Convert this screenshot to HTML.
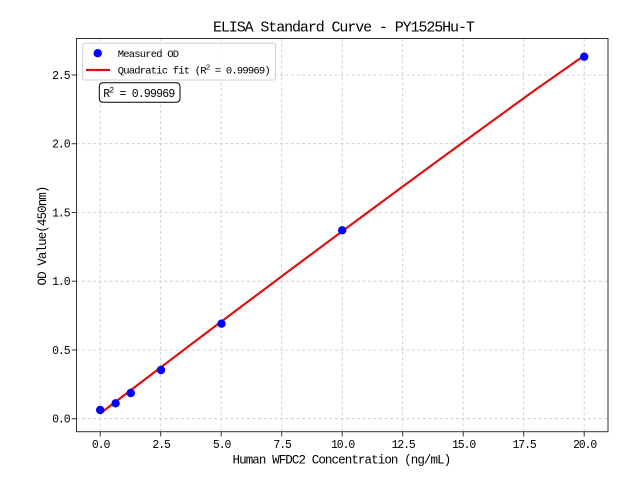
<!DOCTYPE html>
<html><head><meta charset="utf-8"><style>
html,body{margin:0;padding:0;background:#fff;}
svg{display:block;}
text{font-family:"Liberation Mono","Noto Sans CJK SC",monospace;fill:#000;}
</style></head><body>
<svg width="640" height="480" viewBox="0 0 640 480" xmlns="http://www.w3.org/2000/svg">
<rect width="640" height="480" fill="#fff"/>
<!-- grid -->
<g stroke="#c8c8c8" stroke-width="0.8" stroke-dasharray="3,2.5">
<line x1="100.2" y1="38.5" x2="100.2" y2="431.7"/>
<line x1="160.7" y1="38.5" x2="160.7" y2="431.7"/>
<line x1="221.2" y1="38.5" x2="221.2" y2="431.7"/>
<line x1="281.7" y1="38.5" x2="281.7" y2="431.7"/>
<line x1="342.2" y1="38.5" x2="342.2" y2="431.7"/>
<line x1="402.7" y1="38.5" x2="402.7" y2="431.7"/>
<line x1="463.2" y1="38.5" x2="463.2" y2="431.7"/>
<line x1="523.7" y1="38.5" x2="523.7" y2="431.7"/>
<line x1="584.2" y1="38.5" x2="584.2" y2="431.7"/>
<line x1="76.5" y1="418.7" x2="608" y2="418.7"/>
<line x1="76.5" y1="350" x2="608" y2="350"/>
<line x1="76.5" y1="281.2" x2="608" y2="281.2"/>
<line x1="76.5" y1="212.5" x2="608" y2="212.5"/>
<line x1="76.5" y1="143.7" x2="608" y2="143.7"/>
<line x1="76.5" y1="75" x2="608" y2="75"/>
</g>
<!-- fit line -->
<polyline fill="none" stroke="#dd1111" stroke-width="2.2" points="100.2,413.5 148.6,376.6 197,339.9 245.4,303.5 293.8,267.3 342.2,231.3 390.6,195.5 439,159.9 487.4,124.6 535.8,89.5 584.2,55.6"/>
<!-- markers -->
<g fill="#0000ff">
<circle cx="100.2" cy="410" r="4.2"/>
<circle cx="115.6" cy="403.3" r="4.2"/>
<circle cx="130.8" cy="393" r="4.2"/>
<circle cx="161" cy="370" r="4.2"/>
<circle cx="221.5" cy="323.7" r="4.2"/>
<circle cx="342.2" cy="230.3" r="4.2"/>
<circle cx="584.2" cy="56.7" r="4.2"/>
</g>
<!-- spines -->
<rect x="76.5" y="38.5" width="531.5" height="393.2" fill="none" stroke="#333" stroke-width="1"/>
<!-- ticks -->
<g stroke="#333" stroke-width="1">
<line x1="100.2" y1="431.7" x2="100.2" y2="436.5"/>
<line x1="160.7" y1="431.7" x2="160.7" y2="436.5"/>
<line x1="221.2" y1="431.7" x2="221.2" y2="436.5"/>
<line x1="281.7" y1="431.7" x2="281.7" y2="436.5"/>
<line x1="342.2" y1="431.7" x2="342.2" y2="436.5"/>
<line x1="402.7" y1="431.7" x2="402.7" y2="436.5"/>
<line x1="463.2" y1="431.7" x2="463.2" y2="436.5"/>
<line x1="523.7" y1="431.7" x2="523.7" y2="436.5"/>
<line x1="584.2" y1="431.7" x2="584.2" y2="436.5"/>
<line x1="71.7" y1="418.7" x2="76.5" y2="418.7"/>
<line x1="71.7" y1="350" x2="76.5" y2="350"/>
<line x1="71.7" y1="281.2" x2="76.5" y2="281.2"/>
<line x1="71.7" y1="212.5" x2="76.5" y2="212.5"/>
<line x1="71.7" y1="143.7" x2="76.5" y2="143.7"/>
<line x1="71.7" y1="75" x2="76.5" y2="75"/>
</g>
<!-- x tick labels -->
<g font-size="11.5" text-anchor="middle" letter-spacing="-1.1">
<text x="100.6" y="448">0.0</text>
<text x="161.1" y="448">2.5</text>
<text x="221.6" y="448">5.0</text>
<text x="282.1" y="448">7.5</text>
<text x="342.6" y="448">10.0</text>
<text x="403.1" y="448">12.5</text>
<text x="463.6" y="448">15.0</text>
<text x="524.1" y="448">17.5</text>
<text x="584.6" y="448">20.0</text>
</g>
<!-- y tick labels -->
<g font-size="11.5" text-anchor="end" letter-spacing="-1.1">
<text x="69.5" y="422.7">0.0</text>
<text x="69.5" y="354">0.5</text>
<text x="69.5" y="285.2">1.0</text>
<text x="69.5" y="216.5">1.5</text>
<text x="69.5" y="147.7">2.0</text>
<text x="69.5" y="79">2.5</text>
</g>
<!-- title -->
<text x="213" y="31.7" font-size="15" letter-spacing="-1.1">ELISA Standard Curve - PY1525Hu-T</text>
<!-- x label -->
<text x="232.5" y="463.3" font-size="12.5" letter-spacing="-0.9">Human WFDC2 Concentration (ng/mL)</text>
<!-- y label -->
<text transform="translate(46,236) rotate(-90)" text-anchor="middle" font-size="12.5" letter-spacing="-0.9">OD Value(450nm)</text>
<!-- legend -->
<rect x="82.7" y="43.3" width="192.8" height="36.7" rx="2" fill="#fff" fill-opacity="0.85" stroke="#d0d0d0" stroke-width="1"/>
<circle cx="97.7" cy="53.2" r="4.2" fill="#0000ff"/>
<line x1="86" y1="70" x2="110" y2="70" stroke="#dd1111" stroke-width="2.2"/>
<text x="117.7" y="57" font-size="10.5" letter-spacing="-0.8">Measured OD</text>
<text x="117.7" y="73.7" font-size="10.5" letter-spacing="-0.8">Quadratic fit (R<tspan font-size="7.5" dy="-4">2</tspan><tspan dy="4"> = 0.99969)</tspan></text>
<!-- R2 box -->
<rect x="99.3" y="82.7" width="80.7" height="19.6" rx="3.5" fill="#fff" stroke="#000" stroke-width="1"/>
<text x="103.3" y="96.9" font-size="11.5" letter-spacing="-0.8">R<tspan font-size="8" dy="-4.5">2</tspan><tspan dy="4.5"> = 0.99969</tspan></text>
</svg>
</body></html>
